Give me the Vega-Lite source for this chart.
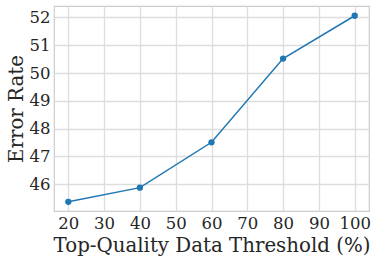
{
  "$schema": "https://vega.github.io/schema/vega-lite/v6.json",
  "width": 315,
  "height": 205,
  "autosize": {"type": "none"},
  "padding": {"left": 54, "top": 6, "right": 9, "bottom": 50},
  "background": "white",
  "config": {
    "font": "DejaVu Serif",
    "view": {"stroke": "#cccccc", "strokeWidth": 1.2},
    "axis": {
      "domain": false,
      "ticks": false,
      "grid": true,
      "gridColor": "#dddddd",
      "gridWidth": 1.3,
      "labelFont": "DejaVu Serif",
      "labelFontSize": 16.5,
      "labelColor": "#262626",
      "titleFont": "DejaVu Serif",
      "titleFontSize": 19.8,
      "titleFontWeight": "normal",
      "titleColor": "#262626"
    }
  },
  "data": {
    "values": [
      {"threshold": 20, "error": 45.37},
      {"threshold": 40, "error": 45.88},
      {"threshold": 60, "error": 47.51},
      {"threshold": 80, "error": 50.52},
      {"threshold": 100, "error": 52.06}
    ]
  },
  "mark": {"type": "line", "color": "#1f77b4", "strokeWidth": 1.5, "point": {"color": "#1f77b4", "size": 40, "filled": true, "opacity": 1}},
  "encoding": {
    "x": {
      "field": "threshold",
      "type": "quantitative",
      "title": "Top-Quality Data Threshold (%)",
      "scale": {"domain": [16, 104], "nice": false, "zero": false},
      "axis": {"values": [20, 30, 40, 50, 60, 70, 80, 90, 100], "labelPadding": 4, "titlePadding": 4}
    },
    "y": {
      "field": "error",
      "type": "quantitative",
      "title": "Error Rate",
      "scale": {"domain": [45.04, 52.41], "nice": false, "zero": false},
      "axis": {"values": [46, 47, 48, 49, 50, 51, 52], "labelPadding": 4, "titlePadding": 3}
    }
  }
}
